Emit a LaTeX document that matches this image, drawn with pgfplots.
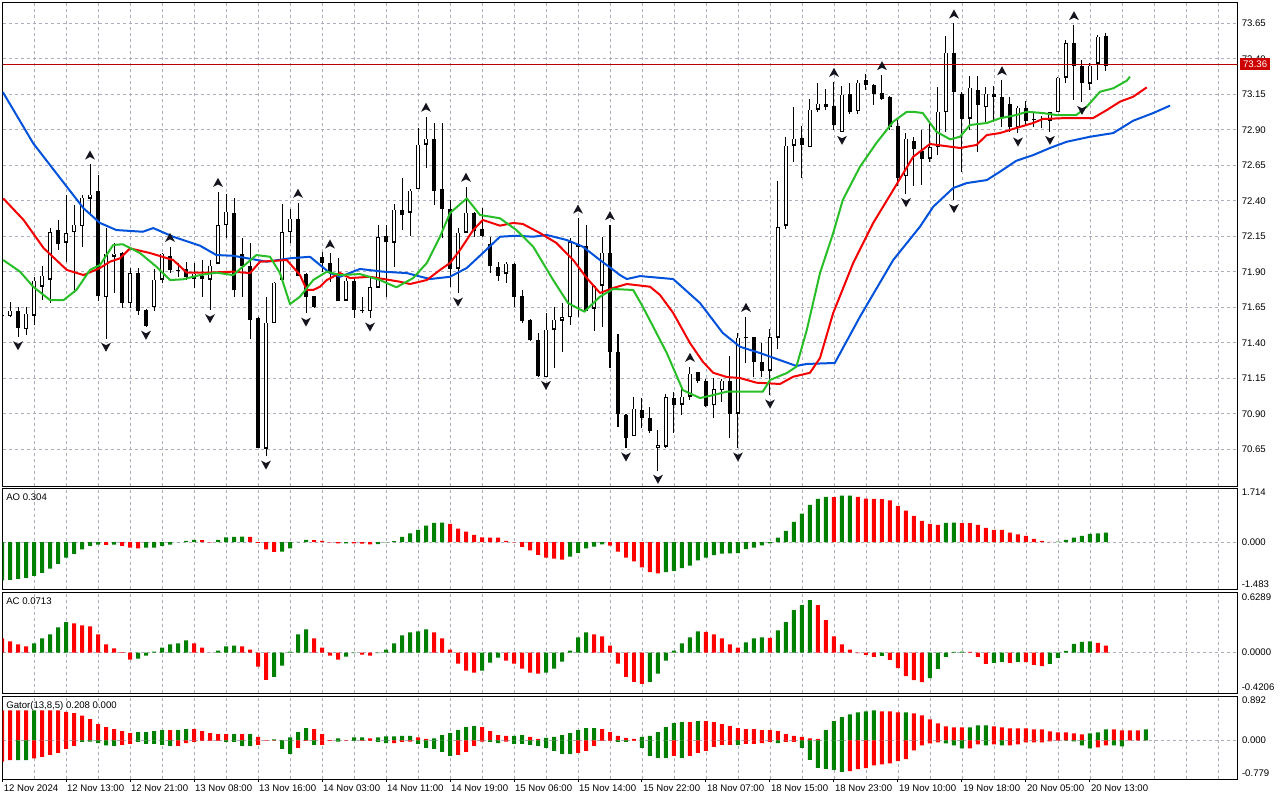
\documentclass[border=0pt]{standalone}
\usepackage{fontspec}
\setmainfont{Liberation Sans}
\usepackage{pgfplots}
\usepackage{pgfplotstable}
\pgfplotsset{compat=1.18}
\newcommand\chartfont{\fontsize{7.2}{8.6}\selectfont}
\definecolor{gridc}{RGB}{172,174,190}
\definecolor{aogreen}{RGB}{0,128,0}
\definecolor{aored}{RGB}{255,0,0}
\definecolor{jaw}{RGB}{0,82,220}
\definecolor{teeth}{RGB}{245,0,0}
\definecolor{lips}{RGB}{40,190,40}
\definecolor{priceline}{RGB}{180,0,0}
\definecolor{pricebox}{RGB}{204,0,0}
\pgfdeclareplotmark{fracup}{%
 \pgfpathmoveto{\pgfpoint{0pt}{3.4pt}}%
 \pgfpathlineto{\pgfpoint{3.7pt}{-3.4pt}}%
 \pgfpathlineto{\pgfpoint{0pt}{-1.5pt}}%
 \pgfpathlineto{\pgfpoint{-3.7pt}{-3.4pt}}%
 \pgfpathclose\pgfusepathqfill}
\pgfdeclareplotmark{fracdown}{%
 \pgfpathmoveto{\pgfpoint{0pt}{-3.4pt}}%
 \pgfpathlineto{\pgfpoint{3.7pt}{3.4pt}}%
 \pgfpathlineto{\pgfpoint{0pt}{1.5pt}}%
 \pgfpathlineto{\pgfpoint{-3.7pt}{3.4pt}}%
 \pgfpathclose\pgfusepathqfill}

\pgfplotstableread{
k O H L C
0 71.59 71.61 71.57 71.59
1 71.59 71.685 71.58 71.63
2 71.63 71.655 71.44 71.51
3 71.50 71.655 71.455 71.608
4 71.594 71.866 71.525 71.842
5 71.80 71.943 71.70 71.877
6 71.847 72.206 71.683 72.183
7 72.199 72.265 72.054 72.10
8 72.107 72.441 71.97 72.176
9 72.183 72.37 71.75 72.234
10 72.225 72.441 72.077 72.424
11 72.417 72.657 72.29 72.445
12 72.476 72.582 71.697 71.73
13 71.725 72.206 71.43 72.03
14 72.01 72.10 71.75 72.03
15 72.037 72.04 71.647 71.683
16 71.683 71.924 71.647 71.894
17 71.894 71.924 71.596 71.626
18 71.631 71.635 71.514 71.525
19 71.655 71.917 71.626 71.847
20 71.847 72.03 71.82 72.03
21 72.018 72.077 71.89 71.913
22 71.917 71.964 71.866 71.908
23 71.92 71.97 71.84 71.866
24 71.854 71.965 71.784 71.89
25 71.871 71.983 71.725 71.854
26 71.847 71.983 71.631 71.946
27 71.96 72.464 71.96 72.23
28 72.23 72.445 72.136 72.328
29 72.321 72.417 71.72 71.772
30 72.03 72.136 71.725 71.943
31 71.941 72.10 71.424 71.565
32 71.579 71.58 70.66 70.664
33 70.657 71.725 70.60 71.544
34 71.542 71.826 71.537 71.826
35 71.847 72.375 71.847 72.183
36 72.183 72.34 72.10 72.277
37 72.277 72.387 71.875 71.875
38 71.889 71.89 71.607 71.725
39 71.73 71.73 71.643 71.655
40 72.011 72.042 71.901 71.964
41 71.964 72.03 71.83 71.901
42 71.89 71.995 71.697 71.697
43 71.701 71.854 71.697 71.842
44 71.842 71.854 71.577 71.631
45 71.638 71.725 71.607 71.626
46 71.626 71.854 71.572 71.795
47 71.79 72.229 71.784 72.147
48 72.154 72.229 71.72 72.112
49 72.108 72.377 71.936 72.34
50 72.342 72.558 72.194 72.305
51 72.319 72.481 72.154 72.476
52 72.485 72.91 72.485 72.80
53 72.80 72.993 72.629 72.84
54 72.84 72.946 72.37 72.476
55 72.488 72.946 72.136 72.347
56 72.347 72.406 71.795 71.924
57 71.924 72.206 71.748 72.178
58 72.178 72.50 72.178 72.319
59 72.319 72.319 72.147 72.194
60 72.206 72.347 72.147 72.159
61 72.10 72.147 71.894 71.943
62 71.936 71.971 71.838 71.873
63 71.889 71.967 71.823 71.96
64 71.96 71.96 71.655 71.725
65 71.73 71.772 71.537 71.56
66 71.565 71.565 71.415 71.42
67 71.424 71.471 71.157 71.173
68 71.161 71.607 71.161 71.495
69 71.495 71.655 71.22 71.565
70 71.56 71.678 71.338 71.584
71 71.584 72.136 71.525 72.112
72 72.10 72.276 71.584 72.077
73 72.082 72.23 71.626 71.626
74 71.643 71.807 71.485 71.807
75 71.807 72.147 71.514 72.037
76 72.035 72.23 71.22 71.338
77 71.342 71.462 70.805 70.903
78 70.896 70.896 70.657 70.734
79 70.746 71.016 70.746 70.939
80 70.927 71.009 70.798 70.875
81 70.875 70.945 70.762 70.781
82 70.664 70.786 70.50 70.681
83 70.673 71.04 70.657 71.021
84 71.016 71.051 70.767 70.969
85 70.969 71.091 70.891 71.025
86 71.025 71.232 70.997 71.185
87 71.197 71.197 71.115 71.138
88 71.138 71.145 70.945 70.955
89 70.962 71.15 70.868 71.075
90 71.068 71.143 70.985 71.138
91 71.138 71.307 70.727 70.903
92 70.903 71.467 70.657 71.438
93 71.438 71.584 71.255 71.442
94 71.443 71.443 71.157 71.267
95 71.267 71.396 71.162 71.208
96 71.208 71.495 71.03 71.443
97 71.438 72.54 71.354 72.218
98 72.227 72.852 72.20 72.791
99 72.791 73.063 72.676 72.84
100 72.847 72.927 72.558 72.798
101 72.781 73.115 72.781 73.044
102 73.044 73.232 73.028 73.086
103 73.086 73.185 73.04 73.063
104 73.068 73.239 72.899 72.934
105 72.887 73.208 72.887 73.152
106 73.157 73.232 73.011 73.028
107 73.035 73.251 73.011 73.234
108 73.251 73.29 73.18 73.22
109 73.222 73.222 73.075 73.157
110 73.16 73.286 73.11 73.12
111 73.138 73.138 72.898 72.922
112 72.927 72.969 72.504 72.565
113 72.577 72.88 72.448 72.84
114 72.828 72.852 72.506 72.765
115 72.751 72.9 72.51 72.699
116 72.699 72.957 72.675 72.781
117 72.781 73.204 72.72 73.032
118 73.028 73.56 72.887 73.445
119 73.445 73.65 72.406 73.168
120 73.157 73.168 72.605 72.98
121 72.98 73.279 72.898 73.2
122 73.185 73.279 72.746 73.079
123 73.063 73.204 72.957 73.157
124 73.157 73.21 72.957 73.133
125 73.138 73.25 72.922 72.992
126 73.086 73.133 72.887 72.922
127 72.922 73.068 72.875 73.058
128 73.058 73.105 72.934 72.969
129 72.97 73.016 72.922 72.974
130 72.98 73.0 72.91 72.97
131 72.969 73.028 72.887 73.028
132 73.028 73.27 73.028 73.27
133 73.27 73.53 73.23 73.514
134 73.516 73.638 73.11 73.35
135 73.35 73.39 73.098 73.232
136 73.228 73.368 73.18 73.356
137 73.368 73.567 73.25 73.56
138 73.565 73.579 73.316 73.354
}\candles

\pgfplotstableread{
k v c
0 -1.21 1
1 -1.19 1
2 -1.16 1
3 -1.13 1
4 -1.07 1
5 -0.97 1
6 -0.84 1
7 -0.69 1
8 -0.49 1
9 -0.37 1
10 -0.23 1
11 -0.12 1
12 -0.08 1
13 -0.085 0
14 -0.08 1
15 -0.12 0
16 -0.17 0
17 -0.20 0
18 -0.17 1
19 -0.17 1
20 -0.12 1
21 -0.08 1
22 0.005 1
23 0.04 1
24 0.07 1
25 0.065 0
26 -0.01 0
27 0.07 1
28 0.15 1
29 0.17 1
30 0.172 1
31 0.165 0
32 -0.02 0
33 -0.23 0
34 -0.31 0
35 -0.30 1
36 -0.20 1
37 0.01 1
38 0.07 1
39 0.065 0
40 0.04 0
41 -0.01 0
42 -0.04 0
43 -0.035 1
44 -0.04 0
45 -0.05 0
46 -0.07 0
47 -0.065 1
48 -0.01 1
49 0.03 1
50 0.17 1
51 0.28 1
52 0.39 1
53 0.52 1
54 0.61 1
55 0.615 1
56 0.58 0
57 0.43 0
58 0.33 0
59 0.23 0
60 0.15 0
61 0.145 0
62 0.14 0
63 0.04 0
64 -0.01 0
65 -0.15 0
66 -0.26 0
67 -0.40 0
68 -0.49 0
69 -0.52 0
70 -0.55 0
71 -0.46 1
72 -0.34 1
73 -0.20 1
74 -0.14 1
75 -0.07 1
76 -0.11 0
77 -0.30 0
78 -0.49 0
79 -0.61 0
80 -0.80 0
81 -0.95 0
82 -0.99 0
83 -0.95 1
84 -0.91 1
85 -0.82 1
86 -0.74 1
87 -0.58 1
88 -0.49 1
89 -0.41 1
90 -0.36 1
91 -0.355 1
92 -0.35 1
93 -0.22 1
94 -0.17 1
95 -0.105 1
96 -0.04 1
97 0.14 1
98 0.36 1
99 0.64 1
100 0.90 1
101 1.18 1
102 1.37 1
103 1.43 1
104 1.425 0
105 1.47 1
106 1.475 1
107 1.43 0
108 1.38 0
109 1.37 0
110 1.365 0
111 1.32 0
112 1.15 0
113 1.00 0
114 0.83 0
115 0.675 0
116 0.58 0
117 0.55 0
118 0.61 1
119 0.615 1
120 0.605 0
121 0.60 0
122 0.55 0
123 0.45 0
124 0.39 0
125 0.385 0
126 0.30 0
127 0.25 0
128 0.20 0
129 0.105 0
130 0.04 0
131 0.01 0
132 0.015 1
133 0.075 1
134 0.14 1
135 0.20 1
136 0.26 1
137 0.28 1
138 0.304 1
}\aodata

\pgfplotstableread{
k v c
0 0.147 0
1 0.115 0
2 0.084 0
3 0.063 0
4 0.094 1
5 0.147 1
6 0.189 1
7 0.262 1
8 0.315 1
9 0.304 0
10 0.283 0
11 0.273 0
12 0.189 0
13 0.084 0
14 0.042 0
15 0.003 0
16 -0.073 0
17 -0.063 1
18 -0.031 1
19 0.010 1
20 0.052 1
21 0.084 1
22 0.094 1
23 0.126 1
24 0.094 0
25 0.052 0
26 -0.002 0
27 0.021 1
28 0.063 1
29 0.073 1
30 0.063 0
31 0.031 0
32 -0.147 0
33 -0.283 0
34 -0.252 1
35 -0.136 1
36 0.010 1
37 0.189 1
38 0.241 1
39 0.147 0
40 0.052 0
41 -0.031 0
42 -0.073 0
43 -0.042 1
44 -0.005 1
45 -0.021 0
46 -0.031 0
47 -0.007 1
48 0.031 1
49 0.094 1
50 0.178 1
51 0.210 1
52 0.220 1
53 0.241 1
54 0.210 0
55 0.147 0
56 0.031 0
57 -0.115 0
58 -0.189 0
59 -0.210 0
60 -0.189 1
61 -0.105 1
62 -0.052 1
63 -0.084 0
64 -0.115 0
65 -0.168 0
66 -0.210 0
67 -0.220 0
68 -0.210 1
69 -0.168 1
70 -0.094 1
71 0.021 1
72 0.157 1
73 0.210 1
74 0.189 0
75 0.168 0
76 0.073 0
77 -0.115 0
78 -0.252 0
79 -0.304 0
80 -0.325 0
81 -0.304 1
82 -0.220 1
83 -0.084 1
84 0.021 1
85 0.094 1
86 0.157 1
87 0.220 1
88 0.215 0
89 0.189 0
90 0.147 0
91 0.084 0
92 0.052 0
93 0.105 1
94 0.147 1
95 0.157 1
96 0.152 0
97 0.231 1
98 0.315 1
99 0.441 1
100 0.493 1
101 0.545 1
102 0.493 0
103 0.336 0
104 0.168 0
105 0.084 0
106 0.031 0
107 -0.007 0
108 -0.024 0
109 -0.045 0
110 -0.035 1
111 -0.077 0
112 -0.161 0
113 -0.245 0
114 -0.287 0
115 -0.308 0
116 -0.266 1
117 -0.171 1
118 -0.045 1
119 0.007 1
120 0.010 1
121 0.007 0
122 -0.045 0
123 -0.119 0
124 -0.108 1
125 -0.098 1
126 -0.108 0
127 -0.098 1
128 -0.100 0
129 -0.129 0
130 -0.140 0
131 -0.119 1
132 -0.056 1
133 0.017 1
134 0.091 1
135 0.112 1
136 0.115 1
137 0.101 0
138 0.0713 0
}\acdata

\pgfplotstableread{
k u uc d dc
0 0.602 0 -0.428 0
1 0.602 0 -0.401 0
2 0.602 0 -0.401 1
3 0.602 0 -0.401 1
4 0.602 1 -0.361 0
5 0.602 0 -0.334 0
6 0.602 0 -0.294 0
7 0.602 0 -0.254 0
8 0.575 0 -0.174 0
9 0.548 0 -0.114 0
10 0.495 0 -0.033 1
11 0.428 0 -0.027 1
12 0.328 0 -0.054 1
13 0.268 0 -0.100 1
14 0.227 0 -0.114 1
15 0.187 0 -0.094 0
16 0.147 0 -0.074 0
17 0.167 1 -0.033 1
18 0.167 1 -0.074 1
19 0.187 1 -0.074 1
20 0.207 1 -0.094 1
21 0.207 0 -0.114 1
22 0.207 1 -0.114 0
23 0.227 1 -0.054 0
24 0.227 0 -0.030 0
25 0.187 0 -0.013 0
26 0.147 0 -0.013 0
27 0.127 0 -0.013 0
28 0.127 0 -0.033 1
29 0.127 1 -0.033 1
30 0.127 0 -0.114 1
31 0.127 1 -0.114 1
32 0.067 0 -0.094 0
33 0.003 0 -0.005 0
34 0.020 1 -0.005 0
35 0.003 1 -0.174 1
36 0.060 1 -0.274 1
37 0.167 1 -0.154 0
38 0.247 1 -0.013 0
39 0.227 0 -0.094 1
40 0.127 0 -0.094 0
41 0.003 0 -0.013 0
42 0.040 1 -0.027 1
43 0.003 0 -0.005 0
44 0.060 1 -0.013 1
45 0.060 1 -0.013 0
46 0.040 0 -0.013 0
47 0.060 1 -0.033 1
48 0.080 1 -0.054 1
49 0.080 1 -0.054 0
50 0.087 1 -0.033 0
51 0.087 1 -0.027 0
52 0.060 0 -0.074 1
53 0.027 0 -0.154 1
54 0.040 1 -0.174 1
55 0.107 1 -0.234 1
56 0.147 1 -0.314 1
57 0.207 1 -0.294 0
58 0.268 1 -0.234 0
59 0.288 1 -0.114 0
60 0.268 0 -0.027 0
61 0.187 0 -0.033 1
62 0.107 0 -0.054 1
63 0.087 0 -0.027 0
64 0.087 1 -0.074 1
65 0.107 1 -0.074 1
66 0.067 0 -0.094 1
67 0.027 0 -0.114 1
68 0.047 1 -0.154 1
69 0.067 1 -0.214 1
70 0.107 1 -0.274 1
71 0.147 1 -0.274 1
72 0.207 1 -0.254 0
73 0.247 1 -0.214 0
74 0.247 1 -0.114 0
75 0.227 0 -0.013 0
76 0.167 0 -0.013 0
77 0.087 0 -0.033 1
78 0.047 0 -0.033 1
79 0.027 0 -0.013 0
80 0.067 1 -0.154 1
81 0.087 1 -0.314 1
82 0.167 1 -0.355 1
83 0.268 1 -0.355 1
84 0.348 1 -0.314 0
85 0.368 1 -0.355 1
86 0.368 0 -0.314 0
87 0.388 1 -0.254 0
88 0.388 0 -0.214 0
89 0.368 0 -0.134 0
90 0.328 0 -0.094 0
91 0.288 0 -0.094 0
92 0.247 0 -0.094 1
93 0.227 0 -0.074 0
94 0.227 0 -0.074 0
95 0.207 0 -0.054 0
96 0.207 0 -0.033 0
97 0.187 0 -0.054 1
98 0.127 0 -0.033 0
99 0.087 0 -0.033 0
100 0.067 0 -0.154 1
101 0.040 0 -0.395 1
102 0.027 0 -0.555 1
103 0.207 1 -0.575 1
104 0.388 1 -0.595 1
105 0.468 1 -0.635 1
106 0.522 1 -0.622 0
107 0.562 1 -0.582 0
108 0.582 1 -0.562 0
109 0.602 1 -0.502 0
110 0.582 0 -0.482 0
111 0.582 0 -0.462 0
112 0.562 0 -0.421 0
113 0.562 1 -0.381 0
114 0.542 0 -0.201 0
115 0.502 0 -0.100 0
116 0.421 0 -0.060 0
117 0.341 0 -0.040 0
118 0.281 0 -0.060 1
119 0.261 0 -0.100 1
120 0.261 0 -0.161 1
121 0.261 1 -0.161 0
122 0.301 1 -0.080 0
123 0.301 1 -0.100 1
124 0.281 0 -0.080 0
125 0.261 0 -0.100 1
126 0.241 0 -0.100 0
127 0.241 0 -0.080 0
128 0.241 0 -0.040 0
129 0.221 0 -0.040 0
130 0.221 0 -0.040 0
131 0.181 0 -0.020 0
132 0.161 0 -0.007 0
133 0.161 0 -0.007 1
134 0.140 0 -0.020 1
135 0.120 0 -0.100 1
136 0.140 1 -0.161 1
137 0.161 1 -0.140 0
138 0.221 1 -0.100 0
139 0.221 0 -0.100 1
140 0.201 0 -0.120 1
141 0.201 0 -0.003 0
142 0.201 0 -0.003 0
143 0.221 1 -0.003 0
}\gatordata

\pgfplotsset{
 mtpanel/.style={
  scale only axis, anchor=north west, width=926.1pt,
  xmin=0.0875, xmax=154.44,
  axis line style={line width=0.75pt},
  font=\chartfont,
  xtick={0.0875,8,16,24,32,40,48,56,64,72,80,88,96,104,112,120,128,136},
  minor xtick={4,12,20,28,36,44,52,60,68,76,84,92,100,108,116,124,132,140,144,148,152},
  xmajorgrids, xminorgrids,
  major grid style={gridc, dash pattern=on 2.25pt off 2.25pt, line width=0.6pt},
  minor grid style={gridc, dash pattern=on 2.25pt off 2.25pt, line width=0.6pt},
  xticklabels={}, xtick style={draw=none}, minor tick length=0pt,
  ytick pos=right, yticklabel pos=right, tick align=outside,
  ytick style={draw=none},
  yticklabel style={anchor=west, inner xsep=0.6pt, font=\chartfont},
  major tick length=2.4pt,
 },
 histo/.style={ybar, bar width=0.5, bar shift=0pt, draw=none},
 candleline/.style={mark=none, forget plot, -},
}

\begin{document}
\begin{tikzpicture}
\path[use as bounding box] (0,0) rectangle (960pt,-600pt);
\fill[white] (0,0) rectangle (960pt,-600pt);

% ---------------- main price panel ----------------
\begin{axis}[mtpanel, at={(2.025pt,-1.5pt)}, height=363pt,
  ymin=70.3915, ymax=73.8,
  ytick={70.65,70.90,71.15,71.40,71.65,71.90,72.15,72.40,72.65,72.90,73.15,73.40,73.65},
  yticklabels={70.65,70.90,71.15,71.40,71.65,71.90,72.15,72.40,72.65,72.90,73.15,73.40,73.65},
  ymajorgrids, ytick style={black, line width=0.75pt},
  extra y ticks={73.36}, extra y tick labels={73.36},
  extra y tick style={grid=none, ytick style={draw=none},
    yticklabel style={fill=pricebox, text=white, inner xsep=2pt, inner ysep=1.2pt, minimum height=9pt, xshift=-0.4pt}},
]
% wicks
\addplot[candleline, black, line width=0.75pt,
  quiver={u=0, v=\thisrow{H}-\thisrow{L}}]
  table[x=k, y=L] {\candles};
% bodies
\addplot[candleline, black, line width=3.6pt,
  quiver={u=0, v={max(abs(\thisrow{C}-\thisrow{O}),0.007)}}]
  table[x=k, y expr={min(\thisrow{O},\thisrow{C})-0.0035}] {\candles};
% hollow inside of rising candles
\addplot[candleline, white, line width=2.1pt,
  restrict expr to domain={\thisrow{C}-\thisrow{O}}{0.0145:10},
  quiver={u=0, v=\thisrow{C}-\thisrow{O}-0.01408}]
  table[x=k, y expr={\thisrow{O}+0.00704}] {\candles};
% current price line
\addplot[priceline, line width=0.75pt] coordinates {(0.0875,73.36) (154.44,73.36)};
% Alligator jaw (blue)
\addplot[jaw, line width=1.5pt, line join=round] coordinates {
(0.1,73.166) (3.9,72.805) (8.1,72.499) (10.2,72.347) (12.25,72.244) (14.3,72.194) (17.6,72.182) (18.9,72.208) (21.4,72.147) (24.75,72.084) (26.8,72.018) (28.9,72.013) (33.1,71.971) (36,71.995) (38.5,72.006) (39.75,71.948) (41,71.891) (42.25,71.865) (44.75,71.920) (47.6,71.901) (50.6,71.891) (53.5,71.849) (56,71.865) (58.1,71.927) (60.1,72.032) (62.25,72.147) (64.3,72.154) (66.4,72.147) (68.1,72.159) (70.6,72.124) (72.6,72.077) (74.75,71.983) (77.25,71.877) (78.1,71.849) (79.75,71.870) (83.9,71.849) (87.25,71.680) (90.1,71.469) (92.25,71.372) (94.75,71.328) (99.3,71.237) (100.6,71.251) (104.1,71.258) (107.25,71.584) (111.4,71.983) (114.75,72.218) (116.4,72.358) (118.9,72.490) (120.6,72.525) (123.1,72.546) (124.75,72.605) (126.8,72.682) (128.9,72.722) (131,72.772) (133.1,72.816) (136,72.851) (138.9,72.877) (141.4,72.964) (143.9,73.018) (146,73.070)};
% Alligator teeth (red)
\addplot[teeth, line width=1.5pt, line join=round] coordinates {
(0.15,72.417) (2.7,72.265) (5.2,72.067) (8.1,71.913) (10.2,71.877) (12.25,71.927) (13.5,71.971) (14.75,71.995) (16,72.065) (18.5,72.032) (21.4,71.983) (23.1,71.894) (25.6,71.894) (28.9,71.901) (31,71.891) (32.25,71.971) (35.6,71.983) (37.25,71.877) (38.1,71.772) (38.9,71.772) (39.75,71.795) (40.6,71.842) (42.25,71.891) (43.5,71.856) (46,71.865) (49.75,71.830) (51,71.814) (53.1,71.842) (54.75,71.913) (56,71.962) (57.25,72.053) (58.9,72.194) (60.1,72.265) (62.25,72.225) (63.9,72.244) (65.1,72.237) (67.25,72.173) (69.3,72.103) (71.4,71.983) (73.1,71.856) (74.75,71.751) (76.4,71.786) (78.1,71.814) (81,71.795) (82.25,71.737) (83.9,71.610) (86,71.398) (87.6,71.267) (88.9,71.189) (90.6,71.159) (92.25,71.152) (94.3,71.119) (97.25,71.110) (98.9,71.161) (101,71.189) (102.25,71.293) (103.9,71.610) (106.4,71.962) (108.9,72.244) (111.4,72.476) (113.9,72.710) (116,72.800) (119.75,72.772) (121.8,72.793) (123.1,72.863) (124.75,72.877) (126.8,72.913) (128.9,72.948) (130.1,72.976) (133.1,72.983) (136.4,72.983) (138.1,73.039) (139.75,73.098) (141.4,73.133) (143.1,73.199)};
% Alligator lips (green)
\addplot[lips, line width=1.5pt, line join=round] coordinates {
(0.15,71.983) (2.25,71.901) (3.9,71.795) (6,71.701) (7.7,71.701) (9.3,71.772) (11,71.913) (12.25,71.948) (13.9,72.089) (15.1,72.094) (17.25,72.032) (19.3,71.936) (21,71.842) (22.6,71.847) (24.75,71.877) (26.8,71.894) (28.9,71.877) (30.1,71.936) (31.8,72.018) (33.5,72.006) (34.75,71.891) (36,71.673) (37.25,71.725) (38.9,71.842) (40.6,71.901) (42.25,71.877) (44.75,71.884) (47.25,71.842) (49.3,71.791) (51.4,71.856) (53.1,71.962) (54.75,72.147) (56,72.314) (58.1,72.417) (59.75,72.300) (62.25,72.277) (64.3,72.194) (66.4,72.077) (68.9,71.842) (70.75,71.680) (72.8,71.619) (74.75,71.725) (76.4,71.779) (78.9,71.772) (80.1,71.654) (81.4,71.513) (83.1,71.328) (85.1,71.067) (87.25,71.011) (88.9,71.032) (90.6,71.056) (95.1,71.056) (96,71.138) (98.1,71.187) (99.3,71.232) (100.6,71.490) (102.25,71.891) (103.9,72.173) (105.1,72.406) (107.25,72.640) (109.3,72.807) (111.4,72.957) (113.1,73.027) (113.9,73.027) (115.1,73.018) (116.8,72.887) (118.5,72.833) (119.75,72.851) (121,72.934) (123.1,72.948) (124.75,72.981) (126.8,73.004) (128.1,73.027) (130.1,73.018) (131.8,73.004) (134.3,73.004) (135.6,73.063) (137.25,73.168) (138.9,73.192) (140.6,73.246) (141,73.274)};
% fractals
\addplot[only marks, mark=fracup, color={rgb,255:red,20;green,20;blue,30}, mark options={yshift=7pt}] coordinates {
(11,72.657) (21,72.077) (27,72.464) (37,72.387) (41,72.03) (53,72.993) (58,72.50) (72,72.276) (76,72.23) (86,71.232) (93,71.584) (104,73.239) (110,73.286) (119,73.65) (125,73.25) (134,73.638)};
\addplot[only marks, mark=fracdown, color={rgb,255:red,20;green,20;blue,30}, mark options={yshift=-6.5pt}] coordinates {
(2,71.44) (13,71.43) (18,71.514) (26,71.631) (33,70.60) (38,71.607) (46,71.572) (57,71.748) (68,71.161) (78,70.657) (82,70.50) (92,70.657) (96,71.03) (105,72.887) (113,72.448) (119,72.406) (127,72.875) (131,72.887) (135,73.098)};
\end{axis}

% ---------------- AO panel ----------------
\begin{axis}[mtpanel, at={(2.025pt,-366pt)}, height=75.75pt,
  ymin=-1.483, ymax=1.714,
  ytick={-1.334,1.578}, yticklabels={-1.483,1.714},
  extra y ticks={0}, extra y tick labels={0.000}, extra y tick style={grid=major},
]
\addplot[histo, fill=aogreen, restrict expr to domain={\thisrow{c}}{0.5:1.5}] table[x=k, y=v] {\aodata};
\addplot[histo, fill=aored, restrict expr to domain={\thisrow{c}}{-0.5:0.5}] table[x=k, y=v] {\aodata};
\node[anchor=north west, inner sep=0pt, font=\chartfont, xshift=2.5pt, yshift=-4pt] at (rel axis cs:0,1) {AO 0.304};
\end{axis}

% ---------------- AC panel ----------------
\begin{axis}[mtpanel, at={(2.025pt,-444pt)}, height=75.75pt,
  ymin=-0.4206, ymax=0.6289,
  ytick={-0.361,0.577}, yticklabels={-0.4206,0.6289},
  extra y ticks={0}, extra y tick labels={0.0000}, extra y tick style={grid=major},
]
\addplot[histo, fill=aogreen, restrict expr to domain={\thisrow{c}}{0.5:1.5}] table[x=k, y=v] {\acdata};
\addplot[histo, fill=aored, restrict expr to domain={\thisrow{c}}{-0.5:0.5}] table[x=k, y=v] {\acdata};
\node[anchor=north west, inner sep=0pt, font=\chartfont, xshift=2.5pt, yshift=-4pt] at (rel axis cs:0,1) {AC 0.0713};
\end{axis}

% ---------------- Gator panel ----------------
\begin{axis}[mtpanel, at={(2.025pt,-522pt)}, height=62.25pt,
  ymin=-0.779, ymax=0.892,
  ytick={-0.665,0.812}, yticklabels={-0.779,0.892},
  extra y ticks={0}, extra y tick labels={0.000}, extra y tick style={grid=major},
  xtick pos=bottom, xtick style={draw=black, line width=0.75pt}, major tick length=2.6pt,
  xticklabels={12 Nov 2024,12 Nov 13:00,12 Nov 21:00,13 Nov 08:00,13 Nov 16:00,14 Nov 03:00,14 Nov 11:00,14 Nov 19:00,15 Nov 06:00,15 Nov 14:00,15 Nov 22:00,18 Nov 07:00,18 Nov 15:00,18 Nov 23:00,19 Nov 10:00,19 Nov 18:00,20 Nov 05:00,20 Nov 13:00},
  xticklabel style={anchor=north west, inner sep=0pt, xshift=0.6pt, yshift=-1.2pt, font=\chartfont},
]
\addplot[histo, fill=aogreen, restrict expr to domain={\thisrow{uc}}{0.5:1.5}] table[x=k, y=u] {\gatordata};
\addplot[histo, fill=aored, restrict expr to domain={\thisrow{uc}}{-0.5:0.5}] table[x=k, y=u] {\gatordata};
\addplot[histo, fill=aogreen, restrict expr to domain={\thisrow{dc}}{0.5:1.5}] table[x=k, y=d] {\gatordata};
\addplot[histo, fill=aored, restrict expr to domain={\thisrow{dc}}{-0.5:0.5}] table[x=k, y=d] {\gatordata};
\node[anchor=north west, inner sep=0pt, font=\chartfont, xshift=2.5pt, yshift=-4pt] at (rel axis cs:0,1) {Gator(13,8,5) 0.208 0.000};
\end{axis}
\end{tikzpicture}
\end{document}
